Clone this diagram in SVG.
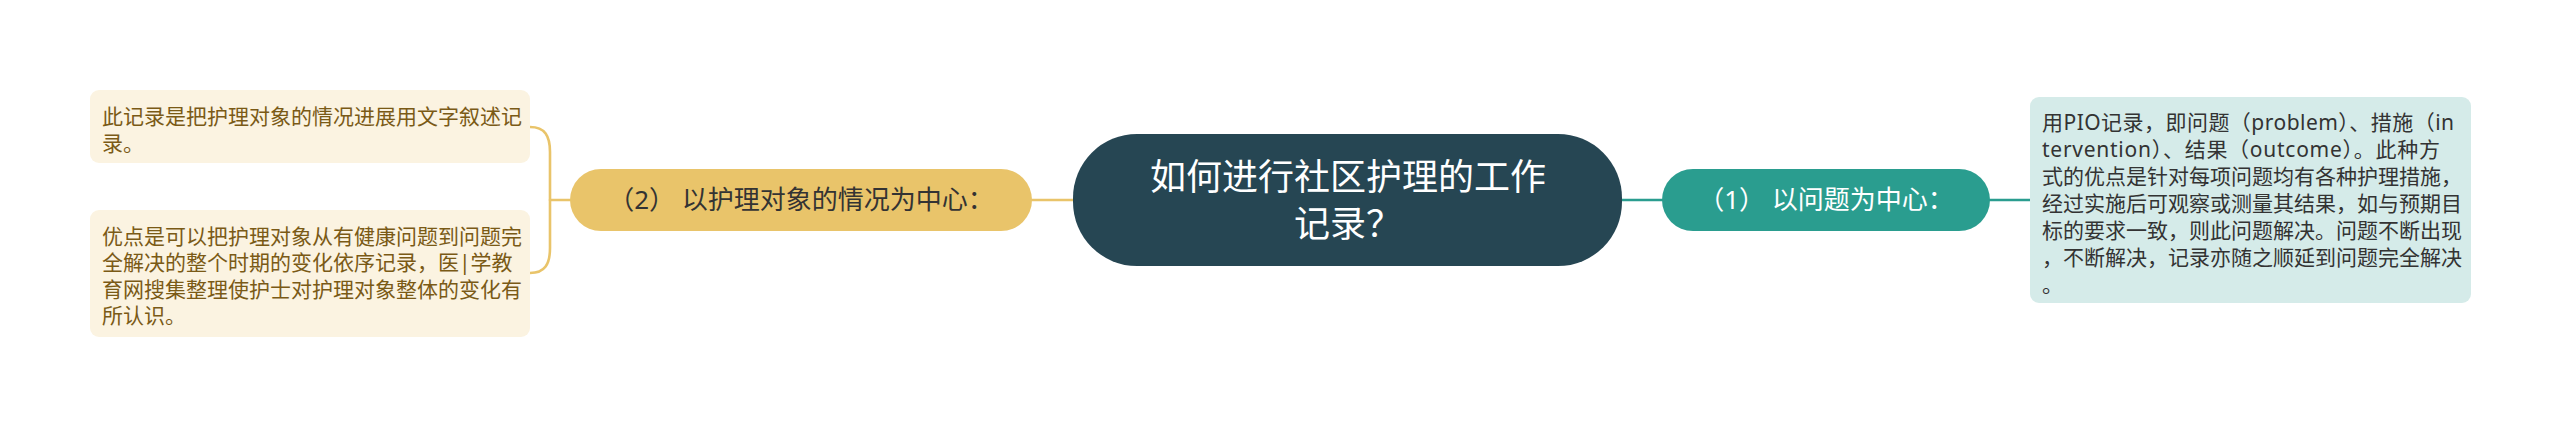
<svg xmlns="http://www.w3.org/2000/svg" width="2560" height="428" viewBox="0 0 2560 428">
<style>
  text { font-family: "Noto Sans", "Noto Sans CJK SC", sans-serif; }
  .conn { fill: none; stroke-width: 2.6; stroke-linecap: round; }
  .yel { stroke: #E9C46A; }
  .teal { stroke: #2A9D8F; }
  .center-t { font-size: 36px; fill: #ffffff; text-anchor: middle; }
  .branch-t { font-size: 26px; text-anchor: middle; }
  .leaf-l { font-size: 21px; fill: #7a5a16; }
  .leaf-r { font-size: 21px; fill: #333333; }
</style>
<rect width="2560" height="428" fill="#ffffff"/>
<g id="connectors">
  <line class="conn yel" x1="1032" y1="200" x2="1074" y2="200"/>
  <path class="conn yel" d="M570,200 H550"/>
  <path class="conn yel" d="M530,127 C545,127 550,136 550,152 L550,248 C550,264 545,273 530,273"/>
  <line class="conn teal" x1="1620" y1="200" x2="1662" y2="200"/>
  <line class="conn teal" x1="1990" y1="200" x2="2030" y2="200"/>
</g>
<g id="center">
  <rect x="1073" y="134" width="549" height="132" rx="64" fill="#264653"/>
  <text class="center-t" x="1348" y="190">如何进行社区护理的工作</text>
  <text class="center-t" x="1348" y="237">记录？</text>
</g>
<g id="branch2">
  <rect x="570" y="169" width="462" height="62" rx="31" fill="#E9C46A"/>
  <text class="branch-t" x="801" y="209" fill="#333333">（2） 以护理对象的情况为中心：</text>
</g>
<g id="branch1">
  <rect x="1662" y="169" width="328" height="62" rx="31" fill="#2A9D8F"/>
  <text class="branch-t" x="1826" y="209" fill="#ffffff">（1） 以问题为中心：</text>
</g>
<g id="leaf2a">
  <rect x="90" y="90" width="440" height="73" rx="9" fill="#FBF3E1"/>
  <text class="leaf-l" x="102" y="123.5">此记录是把护理对象的情况进展用文字叙述记</text>
  <text class="leaf-l" x="102" y="150.5">录。</text>
</g>
<g id="leaf2b">
  <rect x="90" y="210" width="440" height="127" rx="9" fill="#FBF3E1"/>
  <text class="leaf-l" x="102" y="243.5">优点是可以把护理对象从有健康问题到问题完</text>
  <text class="leaf-l" x="102" y="270">全解决的整个时期的变化依序记录，医|学教</text>
  <text class="leaf-l" x="102" y="296.5">育网搜集整理使护士对护理对象整体的变化有</text>
  <text class="leaf-l" x="102" y="323">所认识。</text>
</g>
<g id="leaf1">
  <rect x="2030" y="97" width="441" height="206" rx="9" fill="#D5EBE9"/>
  <text class="leaf-r" x="2042" y="129.5" textLength="412" lengthAdjust="spacing">用PIO记录，即问题（problem）、措施（in</text>
  <text class="leaf-r" x="2042" y="156.5" textLength="398" lengthAdjust="spacing">tervention）、结果（outcome）。此种方</text>
  <text class="leaf-r" x="2042" y="183.5">式的优点是针对每项问题均有各种护理措施，</text>
  <text class="leaf-r" x="2042" y="210.5">经过实施后可观察或测量其结果，如与预期目</text>
  <text class="leaf-r" x="2042" y="237.5">标的要求一致，则此问题解决。问题不断出现</text>
  <text class="leaf-r" x="2042" y="264.5">，不断解决，记录亦随之顺延到问题完全解决</text>
  <text class="leaf-r" x="2042" y="291.5">。</text>
</g>
</svg>
